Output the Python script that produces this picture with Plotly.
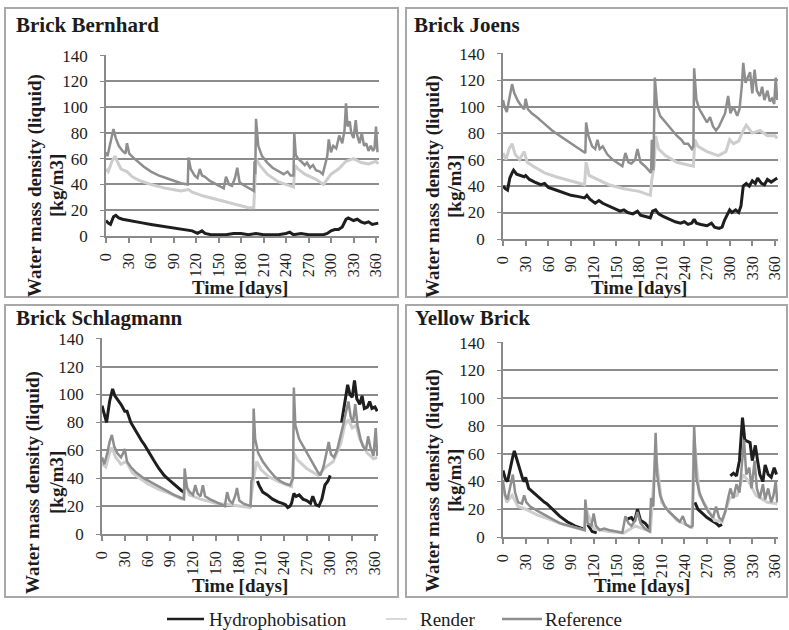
import plotly.graph_objects as go

# ---------------- DATA ----------------
titles = ["Brick Bernhard", "Brick Joens", "Brick Schlagmann", "Yellow Brick"]
series_names = ["Hydrophobisation", "Render", "Reference"]
x_ticks = [0, 30, 60, 90, 120, 150, 180, 210, 240, 270, 300, 330, 360]
y_ticks = [0, 20, 40, 60, 80, 100, 120, 140]

# Brick Bernhard
bern_hyd_day = [0, 3, 6, 10, 13, 17, 22, 30, 40, 50, 60, 70, 80, 90, 100, 110, 115, 122, 128, 132, 140, 150, 160, 170, 180, 190, 200, 210, 220, 230, 240, 245, 250, 260, 270, 280, 290, 295, 300, 305, 310, 315, 318, 320, 323, 327, 330, 335, 340, 345, 350, 355, 360, 363]
bern_hyd_val = [12, 10, 9, 15, 16, 14, 13, 12, 11, 10, 9, 8, 7, 6, 5, 4, 4, 2, 4, 2, 1, 1, 1, 2, 2, 1, 2, 1, 1, 1, 2, 3, 1, 2, 1, 1, 1, 2, 4, 5, 5, 7, 10, 13, 14, 13, 12, 13, 11, 10, 11, 9, 10, 10]
bern_ren_day = [0, 3, 8, 12, 15, 20, 28, 35, 45, 60, 80, 100, 110, 115, 130, 150, 170, 190, 197, 200, 205, 215, 230, 245, 250, 252, 256, 265, 280, 290, 300, 310, 320, 330, 340, 350, 360, 363]
bern_ren_val = [52, 50, 58, 62, 58, 52, 50, 46, 43, 40, 37, 35, 36, 34, 31, 28, 25, 22, 22, 60, 55, 48, 42, 39, 38, 55, 52, 48, 44, 40, 48, 52, 58, 60, 57, 56, 58, 56]
bern_ref_day = [0, 2, 5, 8, 10, 13, 17, 22, 26, 28, 31, 36, 42, 50, 60, 70, 80, 90, 100, 109, 110, 113, 118, 122, 125, 128, 132, 138, 145, 152, 157, 160, 164, 168, 172, 175, 178, 182, 188, 194, 197, 198, 199, 200, 203, 208, 215, 222, 230, 237, 242, 246, 250, 251, 253, 256, 260, 265, 268, 272, 276, 280, 285, 289, 292, 295, 297, 300, 303, 307, 311, 315, 318, 320, 322, 325, 327, 330, 333, 335, 338, 341, 344, 347, 350, 353, 356, 358, 360, 362]
bern_ref_val = [65, 62, 70, 78, 83, 76, 70, 66, 64, 72, 64, 61, 58, 54, 50, 47, 45, 43, 41, 40, 61, 52, 47, 45, 52, 47, 46, 43, 41, 39, 37, 46, 40, 39, 45, 53, 42, 40, 38, 36, 35, 58, 48, 91, 70, 62, 57, 53, 50, 48, 50, 47, 47, 80, 63, 60, 58, 55, 57, 53, 55, 51, 50, 48, 55, 62, 75, 65, 70, 68, 78, 72, 82, 103, 85, 89, 80, 76, 90, 78, 72, 80, 70, 72, 66, 70, 66, 68, 85, 65]

# Brick Joens
joen_hyd_day = [0, 3, 6, 9, 12, 14, 18, 24, 28, 30, 35, 42, 50, 55, 60, 70, 80, 90, 100, 108, 111, 115, 122, 127, 132, 140, 148, 155, 160, 165, 172, 178, 182, 190, 195, 198, 202, 206, 212, 220, 228, 235, 240, 245, 250, 253, 256, 262, 270, 276, 280, 286, 290, 293, 297, 300, 303, 308, 312, 315, 318, 322, 326, 330, 334, 337, 342, 346, 350, 355, 360, 363]
joen_hyd_val = [40, 38, 37, 46, 50, 52, 49, 48, 47, 48, 45, 43, 41, 42, 39, 37, 35, 33, 32, 31, 33, 30, 27, 29, 27, 25, 23, 21, 22, 20, 19, 21, 18, 17, 16, 21, 22, 19, 17, 15, 13, 12, 13, 11, 12, 15, 12, 11, 10, 12, 9, 8, 9, 14, 18, 22, 20, 22, 20, 25, 40, 42, 40, 44, 42, 46, 42, 41, 45, 43, 45, 46]
joen_ren_day = [0, 4, 8, 12, 16, 22, 28, 32, 40, 55, 70, 90, 108, 110, 114, 125, 140, 160, 180, 195, 197, 200, 202, 206, 215, 230, 245, 252, 254, 258, 270, 285, 295, 300, 305, 312, 318, 322, 330, 340, 350, 360, 363]
joen_ren_val = [65, 60, 68, 72, 64, 60, 66, 58, 55, 50, 47, 44, 41, 58, 48, 45, 41, 38, 36, 33, 45, 55, 78, 68, 63, 58, 56, 55, 75, 70, 66, 63, 66, 75, 72, 74, 82, 86, 80, 82, 78, 78, 76]
joen_ref_day = [0, 2, 5, 8, 12, 15, 20, 25, 28, 30, 33, 38, 45, 55, 65, 75, 85, 95, 105, 109, 110, 113, 118, 122, 125, 128, 132, 138, 145, 152, 158, 162, 166, 170, 175, 178, 182, 188, 193, 196, 197, 199, 201, 204, 208, 215, 222, 230, 236, 240, 245, 250, 252, 253, 256, 260, 265, 270, 274, 278, 282, 286, 290, 294, 298, 301, 305, 310, 313, 316, 318, 321, 324, 327, 330, 333, 336, 340, 343, 346, 350, 353, 356, 359, 361, 363]
joen_ref_val = [105, 100, 96, 105, 117, 110, 104, 100, 98, 106, 98, 95, 92, 87, 82, 78, 74, 70, 66, 65, 88, 78, 70, 68, 75, 68, 70, 64, 60, 57, 55, 65, 58, 57, 60, 68, 58, 55, 52, 50, 75, 52, 122, 100, 93, 88, 83, 78, 75, 72, 72, 68, 70, 129, 105, 98, 93, 88, 92, 85, 82, 85, 90, 95, 108, 95, 100, 93, 98, 115, 133, 118, 122, 126, 110, 128, 112, 108, 115, 105, 112, 104, 106, 102, 122, 105]

# Brick Schlagmann
schl_hyd_day = [0, 3, 6, 10, 14, 17, 21, 25, 30, 33, 38, 45, 52, 56, 60, 68, 75, 82, 90, 98, 105, 108, 150, 205, 207, 212, 218, 225, 232, 238, 242, 245, 248, 250, 253, 256, 260, 265, 270, 275, 278, 282, 286, 290, 294, 298, 301, 310, 316, 320, 324, 327, 330, 333, 336, 340, 343, 346, 350, 353, 356, 360, 363]
schl_hyd_val = [92, 85, 80, 95, 104, 99, 96, 93, 88, 88, 80, 73, 67, 64, 60, 53, 47, 42, 38, 34, 31, 30, None, 38, 35, 30, 28, 25, 23, 22, 21, 19, 20, 22, 29, 27, 28, 25, 24, 22, 27, 21, 20, 25, 35, 38, 42, None, 80, 95, 107, 100, 98, 110, 97, 93, 99, 90, 91, 95, 90, 91, 88]
schl_ren_day = [0, 5, 10, 13, 18, 25, 32, 40, 50, 60, 75, 90, 105, 108, 110, 115, 130, 150, 170, 195, 200, 204, 210, 220, 235, 250, 253, 258, 270, 285, 295, 305, 315, 320, 325, 330, 335, 340, 350, 358, 363]
schl_ren_val = [50, 48, 58, 62, 55, 50, 52, 44, 40, 36, 32, 29, 25, 25, 38, 28, 25, 22, 21, 19, 40, 52, 46, 41, 37, 34, 58, 53, 47, 42, 48, 52, 65, 78, 82, 76, 78, 68, 58, 54, 55]
schl_ref_day = [0, 3, 7, 10, 13, 16, 20, 25, 28, 30, 33, 38, 45, 55, 65, 75, 85, 95, 104, 108, 109, 112, 116, 120, 123, 126, 130, 133, 136, 142, 150, 158, 162, 165, 168, 172, 176, 178, 181, 186, 192, 196, 197, 199, 200, 202, 206, 212, 220, 228, 235, 242, 248, 252, 253, 255, 260, 266, 272, 278, 284, 288, 292, 296, 299, 302, 306, 310, 314, 318, 322, 325, 328, 331, 334, 337, 341, 344, 348, 351, 354, 358, 361, 363]
schl_ref_val = [55, 50, 58, 66, 71, 63, 58, 55, 58, 61, 52, 48, 44, 40, 37, 34, 31, 28, 26, 25, 47, 33, 30, 28, 35, 29, 27, 35, 27, 25, 23, 21, 20, 30, 24, 22, 28, 33, 24, 22, 21, 20, 38, 40, 90, 68, 58, 52, 46, 41, 38, 36, 35, 40, 105, 78, 68, 62, 56, 50, 45, 42, 48, 58, 66, 57, 55, 60, 68, 78, 88, 95, 84, 80, 93, 78, 68, 63, 60, 70, 62, 56, 76, 56]

# Yellow Brick
yell_hyd_day = [0, 3, 6, 10, 13, 15, 18, 22, 26, 28, 30, 34, 40, 48, 55, 58, 65, 75, 85, 95, 105, 108, 110, 112, 118, 124, 140, 165, 170, 174, 178, 182, 188, 194, 196, 220, 254, 258, 264, 270, 276, 282, 286, 290, 295, 301, 305, 309, 313, 317, 320, 323, 327, 330, 334, 337, 340, 344, 347, 351, 355, 359, 362]
yell_hyd_val = [48, 42, 40, 52, 58, 62, 56, 50, 42, 40, 43, 35, 32, 28, 25, 24, 20, 15, 11, 8, 6, 5, None, 9, 4, 3, None, 13, 14, 11, 20, 12, 10, 6, 5, None, 25, 20, 17, 14, 12, 10, 8, 9, None, 44, 46, 44, 55, 86, 70, 69, 68, 55, 66, 55, 45, 40, 52, 45, 43, 50, 45]
yell_ren_day = [0, 5, 12, 20, 30, 45, 60, 80, 100, 108, 110, 120, 140, 160, 175, 195, 202, 210, 230, 250, 253, 260, 280, 290, 300, 310, 318, 325, 335, 350, 363]
yell_ren_val = [35, 25, 30, 22, 20, 16, 13, 9, 6, 5, 20, 6, 4, 3, 8, 4, 60, 25, 12, 7, 70, 30, 12, 11, 28, 30, 45, 40, 30, 25, 24]
yell_ref_day = [0, 3, 6, 10, 13, 16, 20, 25, 28, 31, 36, 45, 55, 65, 75, 88, 100, 108, 109, 112, 117, 120, 123, 128, 134, 140, 150, 158, 162, 166, 170, 175, 178, 182, 188, 194, 196, 199, 202, 204, 208, 214, 220, 228, 234, 238, 242, 248, 251, 253, 256, 260, 266, 272, 278, 282, 286, 290, 294, 298, 301, 305, 309, 313, 317, 319, 322, 326, 329, 333, 336, 340, 344, 347, 351, 355, 358, 361, 363]
yell_ref_val = [40, 30, 27, 38, 45, 32, 25, 24, 30, 25, 22, 19, 16, 13, 10, 8, 6, 5, 27, 10, 8, 17, 8, 5, 6, 5, 4, 3, 15, 10, 8, 12, 18, 10, 6, 4, 28, 22, 75, 45, 30, 22, 18, 14, 11, 15, 9, 7, 8, 80, 42, 32, 24, 18, 14, 22, 14, 12, 18, 28, 35, 28, 38, 32, 55, 70, 45, 50, 35, 55, 35, 28, 38, 27, 35, 25, 30, 40, 25]

# --------------- FIGURE ---------------
W, H = 789, 630
serif = "Liberation Serif"
txt = "#1c1c1c"
colors = {"Hydrophobisation": "#1e1e1e", "Render": "#cdcdcd", "Reference": "#8e8e8e"}
widths = {"Hydrophobisation": 3, "Render": 3, "Reference": 2.5}

panel_data = [
    [(bern_hyd_day, bern_hyd_val), (bern_ren_day, bern_ren_val), (bern_ref_day, bern_ref_val)],
    [(joen_hyd_day, joen_hyd_val), (joen_ren_day, joen_ren_val), (joen_ref_day, joen_ref_val)],
    [(schl_hyd_day, schl_hyd_val), (schl_ren_day, schl_ren_val), (schl_ref_day, schl_ref_val)],
    [(yell_hyd_day, yell_hyd_val), (yell_ren_day, yell_ren_val), (yell_ref_day, yell_ref_val)],
]

# plot-area pixel boxes: (left, right, top, bottom)
boxes = [(106, 379, 55, 236), (503, 778, 53, 239), (102, 378, 338, 534), (503, 778, 342, 537)]
# panel frames: (x0, x1, y0, y1)
frames = [(5, 398, 8, 297), (406, 787, 8, 297), (5, 398, 305, 597), (406, 787, 305, 597)]
title_pos = [(14, 25), (412, 25), (14, 318), (413, 318)]
ytitle_pos = [(35, 56, 186), (433, 454, 186), (33, 56, 483), (433, 454, 480)]
xtitle_pos = [(240, 288), (639, 288), (240, 585), (642, 585)]
# manual legend: (line x0, line x1, line width, text x)
legend_pos = {"Hydrophobisation": (167, 204, 2.5, 207), "Render": (386, 407, 1.5, 418), "Reference": (502, 542, 2.5, 543)}
legend_y = 619

fig = go.Figure()

for i, pdata in enumerate(panel_data):
    sfx = "" if i == 0 else str(i + 1)
    for name, (d, v) in zip(series_names, pdata):
        fig.add_trace(go.Scatter(
            x=d, y=v, mode="lines", name=name,
            line=dict(color=colors[name], width=widths[name]),
            connectgaps=False, showlegend=False,
            xaxis="x" + sfx, yaxis="y" + sfx, hoverinfo="skip"))
    l, r, t, b = boxes[i]
    fig.layout["xaxis" + sfx] = dict(
        domain=[l / W, r / W], anchor="y" + sfx, range=[0, 364], automargin=False,
        tickvals=x_ticks, ticktext=[str(t_) for t_ in x_ticks], tickangle=-90,
        ticks="outside", ticklen=5, tickcolor="#8a8a8a", tickwidth=1.5,
        showline=True, linecolor="#8a8a8a", linewidth=1.5, showgrid=False, zeroline=False,
        tickfont=dict(family=serif, size=16, color=txt), ticklabelstandoff=4)
    fig.layout["yaxis" + sfx] = dict(
        domain=[1 - b / H, 1 - t / H], anchor="x" + sfx, range=[0, 140.5], automargin=False,
        tickvals=y_ticks, ticks="outside", ticklen=4, tickcolor="#8a8a8a",
        showline=True, linecolor="#8a8a8a", linewidth=1.5,
        showgrid=True, gridcolor="#8c8c8c", gridwidth=1.5, zeroline=False,
        tickfont=dict(family=serif, size=17, color=txt), ticklabelstandoff=9)

    x0, x1, y0, y1 = frames[i]
    fig.add_shape(type="rect", xref="paper", yref="paper",
                  x0=x0 / W, x1=x1 / W, y0=1 - y1 / H, y1=1 - y0 / H,
                  line=dict(color="#a8a8a8", width=2), layer="below")
    tx, ty = title_pos[i]
    fig.add_annotation(text="<b>" + titles[i] + "</b>", xref="paper", yref="paper",
                       x=tx / W, y=1 - ty / H, xanchor="left", yanchor="middle",
                       showarrow=False, font=dict(family=serif, size=21, color=txt))
    ax1, ax2, ay = ytitle_pos[i]
    fig.add_annotation(text="<b>Water mass density (liquid)</b>", xref="paper", yref="paper",
                       x=ax1 / W, y=1 - ay / H, xanchor="center", yanchor="middle", textangle=-90,
                       showarrow=False, font=dict(family=serif, size=19, color=txt))
    fig.add_annotation(text="<b>[kg/m3]</b>", xref="paper", yref="paper",
                       x=ax2 / W, y=1 - ay / H, xanchor="center", yanchor="middle", textangle=-90,
                       showarrow=False, font=dict(family=serif, size=19, color=txt))
    xx, xy = xtitle_pos[i]
    fig.add_annotation(text="<b>Time [days]</b>", xref="paper", yref="paper",
                       x=xx / W, y=1 - xy / H, xanchor="center", yanchor="middle",
                       showarrow=False, font=dict(family=serif, size=19, color=txt))

# legend drawn as line samples + labels
for name in series_names:
    lx0, lx1, lw, tx = legend_pos[name]
    fig.add_shape(type="line", xref="paper", yref="paper",
                  x0=lx0 / W, x1=lx1 / W, y0=1 - legend_y / H, y1=1 - legend_y / H,
                  line=dict(color=colors[name], width=lw))
    fig.add_annotation(text=name, xref="paper", yref="paper",
                       x=tx / W, y=1 - legend_y / H, xanchor="left", yanchor="middle",
                       showarrow=False, font=dict(family=serif, size=19, color=txt))

fig.update_layout(
    width=W, height=H, margin=dict(l=0, r=0, t=0, b=0, autoexpand=False),
    paper_bgcolor="white", plot_bgcolor="white", showlegend=False,
)

fig.write_html("out.html", post_script="document.body.style.margin='0px';",
               config={"displayModeBar": False})
